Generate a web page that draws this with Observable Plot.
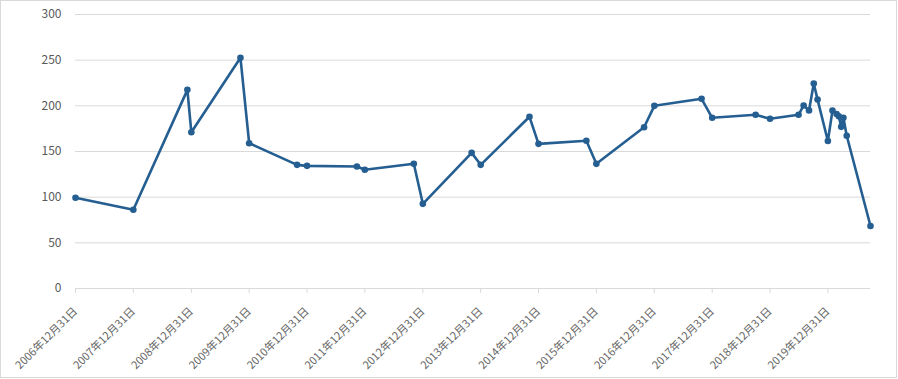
<!DOCTYPE html>
<html><head><meta charset="utf-8">
<script src="https://cdn.jsdelivr.net/npm/d3@7"></script>
<script src="https://cdn.jsdelivr.net/npm/@observablehq/plot@0.6"></script>
<style>
body{margin:0;background:#fff;}
#wrap{position:relative;width:898px;height:379px;}
#border{position:absolute;left:0;top:0;width:897px;height:378px;box-sizing:border-box;border:1px solid #d9d9d9;pointer-events:none;}
</style></head><body><div id="wrap"><div id="border"></div></div>
<script>
const dates = [
  "2006-12-31","2007-12-31","2008-12-06","2008-12-31","2009-11-06","2009-12-31",
  "2010-10-29","2010-12-31","2011-11-11","2011-12-31","2012-11-04","2012-12-31",
  "2013-11-04","2013-12-31","2014-11-04","2014-12-31","2015-10-29","2015-12-31",
  "2016-10-27","2016-12-31","2017-10-25","2017-12-31","2018-10-01","2018-12-31",
  "2019-06-29","2019-07-31","2019-09-03","2019-10-03","2019-10-27","2019-12-31",
  "2020-01-29","2020-02-24","2020-03-09","2020-03-24","2020-04-07","2020-04-28",
  "2020-09-25"
];
const values = [
  99.3, 86.2, 217.5, 171.1, 252.6, 159.1,
  135.4, 134.3, 133.6, 130.0, 136.5, 92.7,
  148.5, 135.4, 188.0, 158.4, 161.7, 136.5,
  176.6, 200.0, 207.7, 186.9, 190.2, 185.8,
  190.2, 200.4, 195.0, 224.4, 206.8, 161.5,
  194.8, 191.0, 188.5, 177.0, 187.0, 167.2,
  68.4
];
const tickDates = [
  "2006-12-31","2007-12-31","2008-12-31","2009-12-31","2010-12-31","2011-12-31","2012-12-31",
  "2013-12-31","2014-12-31","2015-12-31","2016-12-31","2017-12-31","2018-12-31","2019-12-31"
];
const tickLabels = [
  "2006年12月31日","2007年12月31日","2008年12月31日","2009年12月31日","2010年12月31日",
  "2011年12月31日","2012年12月31日","2013年12月31日","2014年12月31日","2015年12月31日",
  "2016年12月31日","2017年12月31日","2018年12月31日","2019年12月31日"
];
const yTicks = [0, 50, 100, 150, 200, 250, 300];

const parse = d3.utcParse("%Y-%m-%d");
const data = dates.map((d, i) => ({date: parse(d), value: values[i]}));
const ticks = tickDates.map(parse);
const labelMap = new Map(ticks.map((t, i) => [+t, tickLabels[i]]));

const chart = Plot.plot({
  width: 898, height: 379,
  marginLeft: 75, marginRight: 28, marginTop: 14, marginBottom: 91,
  style: {fontFamily: "'Noto Sans CJK SC', 'Noto Sans', sans-serif", fontSize: "12px", color: "#595959", background: "transparent"},
  x: {type: "utc", domain: [data[0].date, data[data.length - 1].date], label: null},
  y: {domain: [0, 300], label: null},
  marks: [
    Plot.gridY(yTicks, {stroke: "#d9d9d9", strokeOpacity: 1}),
    Plot.axisY(yTicks, {tickSize: 0, tickPadding: 14, label: null, tickFormat: d => String(d)}),
    Plot.ruleY([0], {stroke: "#d9d9d9", strokeWidth: 1}),
    Plot.axisX(ticks, {tickSize: 5, stroke: "#d9d9d9", strokeOpacity: 1, text: null, label: null}),
    Plot.axisX(ticks, {tickSize: 0, tickPadding: 21, dx: 0, tickRotate: -45, fill: "#666", fontSize: 11, label: null, tickFormat: d => labelMap.get(+d)}),
    Plot.line(data, {x: "date", y: "value", stroke: "#255E91", strokeWidth: 2.6}),
    Plot.dot(data, {x: "date", y: "value", fill: "#255E91", r: 3.3})
  ]
});
document.getElementById("wrap").prepend(chart);
chart.style.position = "absolute"; chart.style.left = "0"; chart.style.top = "0";
</script>
</body></html>
